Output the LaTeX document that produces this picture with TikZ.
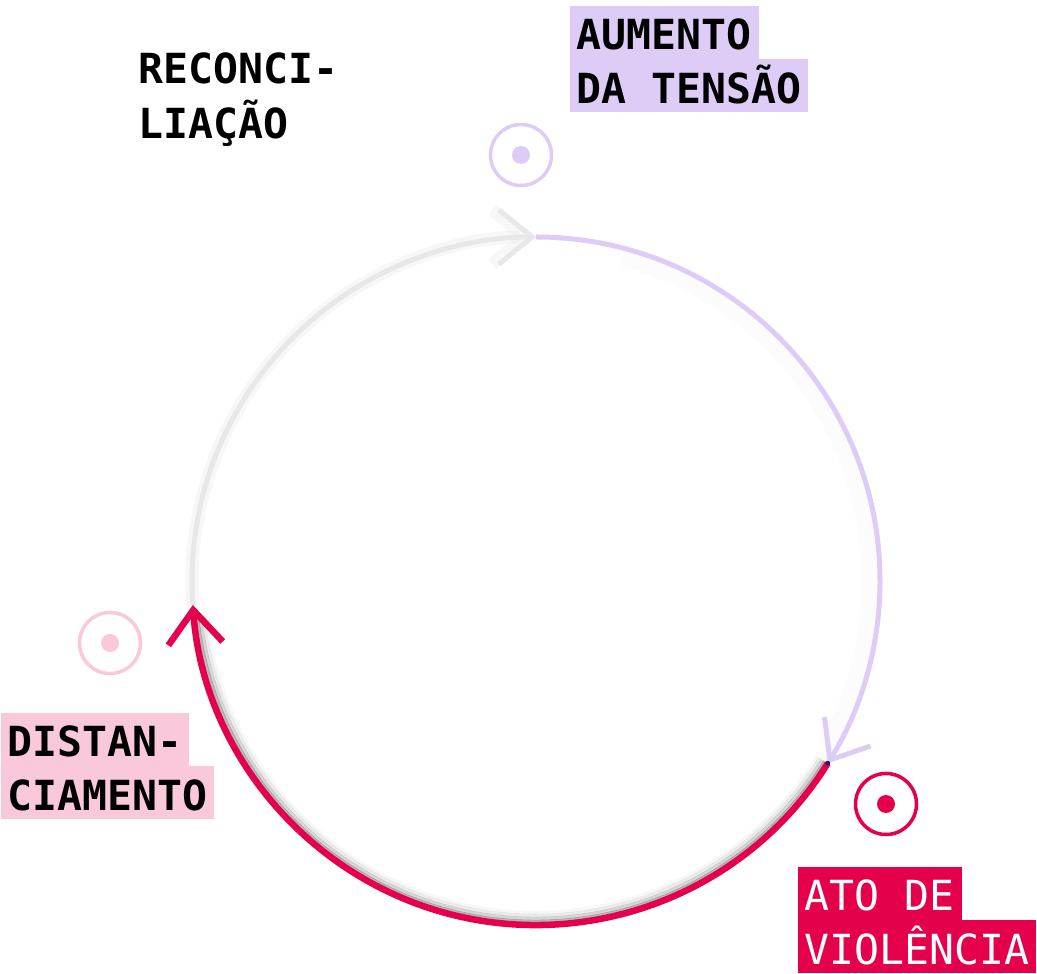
\documentclass[tikz,border=0pt]{standalone}
\usepackage{fontspec}
\setmonofont{DejaVu Sans Mono}
\usepackage{tikz}
\usetikzlibrary{arrows.meta, positioning, calc}
\definecolor{tensaolilac}{RGB}{221, 204, 246}
\definecolor{distpink}{RGB}{249, 201, 219}
\definecolor{violred}{RGB}{229, 0, 76}
\definecolor{cyclegray}{RGB}{232, 232, 232}
\definecolor{joinnavy}{RGB}{40, 20, 110}

\tikzset{
  stagebox/.style={anchor=north west, inner xsep=0.07cm, inner ysep=0pt,
    text height=0.44cm, text depth=0.09cm,
    font=\fontsize{11.8pt}{14pt}\selectfont\ttfamily\bfseries},
  target/.style={circle, draw=#1, line width=1pt, minimum size=0.61cm, inner sep=0pt},
  targetdot/.style={circle, fill=#1, minimum size=0.18cm, inner sep=0pt},
  cycletip/.style={-{Straight Barb[length=9.5pt, width=15.5pt]}},
}

\begin{document}
\begin{tikzpicture}
  \useasboundingbox (0, 0) rectangle (10.37, 9.73);

  % Cycle points
  \coordinate (c) at (5.36, 3.92);
  \coordinate (ptop) at ($(c)+(90:3.44)$);
  \coordinate (pviol) at ($(c)+(-32:3.44)$);
  \coordinate (pdist) at ($(c)+(-176:3.44)$);

  % Reconciliation arc (blurred grey)
  \draw[cyclegray, line width=0.13cm, opacity=0.35, cycletip] (pdist) arc[start angle=-176, end angle=-270, radius=3.44];
  \draw[cyclegray, line width=0.05cm, cycletip] (pdist) arc[start angle=-176, end angle=-270, radius=3.44];

  % Tension arc
  \draw[black, opacity=0.012, line width=0.16cm] ($(c)+(75:3.34)$) arc[start angle=75, end angle=-30, radius=3.34];
  \draw[tensaolilac, line width=0.05cm, cycletip] (ptop) arc[start angle=90, end angle=-32, radius=3.44];

  % Violence arc with inner shadow
  \foreach \d/\o in {0.035/0.28, 0.065/0.16, 0.095/0.08, 0.125/0.03}
    \draw[black, opacity=\o, line width=0.035cm] ($(c)+(-32:3.44-\d)$) arc[start angle=-32, end angle=-174, radius=3.44-\d];
  \draw[violred, line width=0.065cm, cycletip] (pviol) arc[start angle=-32, end angle=-176, radius=3.44];
  \fill[joinnavy] (pviol) circle (0.025);

  % Stage markers
  \node[target=tensaolilac] (tensaoMark) at (5.21, 8.18) {};
  \node[targetdot=tensaolilac] (tensaoDot) at (tensaoMark) {};
  \node[target=violred] (violMark) at (8.86, 1.69) {};
  \node[targetdot=violred] (violDot) at (violMark) {};
  \node[target=distpink] (distMark) at (1.10, 3.30) {};
  \node[targetdot=distpink] (distDot) at (distMark) {};

  % Stage labels
  \node[stagebox] (reconA) at (1.31, 9.34) {RECONCI-};
  \node[stagebox, below right=0pt and 0pt of reconA.south west] (reconB) {LIAÇÃO};

  \node[stagebox, fill=tensaolilac] (tensaoA) at (5.69, 9.68) {AUMENTO};
  \node[stagebox, fill=tensaolilac, below right=-0.01cm and 0pt of tensaoA.south west] (tensaoB) {DA TENSÃO};

  \node[stagebox, fill=violred, text=white, font=\fontsize{11.8pt}{14pt}\selectfont\ttfamily] (violA) at (7.97, 1.07) {ATO DE};
  \node[stagebox, fill=violred, text=white, font=\fontsize{11.8pt}{14pt}\selectfont\ttfamily, below right=-0.01cm and 0pt of violA.south west] (violB) {VIOLÊNCIA};

  \node[stagebox, fill=distpink] (distA) at (0, 2.61) {DISTAN-};
  \node[stagebox, fill=distpink, below right=-0.01cm and 0pt of distA.south west] (distB) {CIAMENTO};
\end{tikzpicture}
\end{document}
